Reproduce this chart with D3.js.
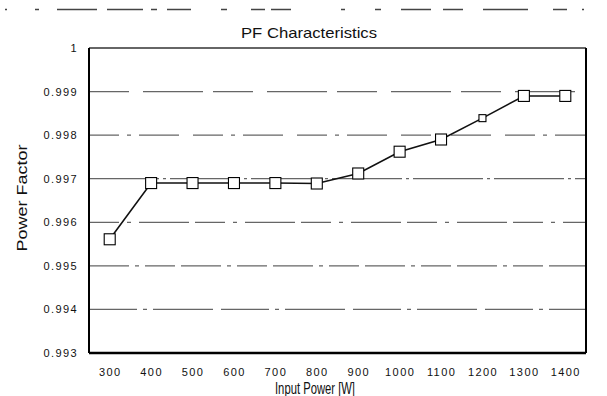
<!DOCTYPE html>
<html>
<head>
<meta charset="utf-8">
<script src="https://cdn.jsdelivr.net/npm/d3@7"></script>
<style>
  body { margin: 0; background: #fff; }
  text { font-family: "Liberation Sans", Arial, sans-serif; fill: #111; }
</style>
</head>
<body>
<div class="chart"></div>
<script>
// data
var inputPower = [300, 400, 500, 600, 700, 800, 900, 1000, 1100, 1200, 1300, 1400];
var powerFactor = [0.99561, 0.99690, 0.99690, 0.99690, 0.99690, 0.99689, 0.99712, 0.99762, 0.99790, 0.99839, 0.99890, 0.99890];
var yTicks = [0.993, 0.994, 0.995, 0.996, 0.997, 0.998, 0.999, 1];

var svgWidth = 607;
var svgHeight = 396;

var margin = {
    top: 48,
    right: 21,
    bottom: 43,
    left: 89
};

var width = svgWidth - margin.left - margin.right;
var height = svgHeight - margin.top - margin.bottom;

var svg = d3.select(".chart")
    .append("svg")
    .attr("width", svgWidth)
    .attr("height", svgHeight);

// scan artifact line across the top
svg.append("line")
    .attr("x1", 5).attr("x2", 600)
    .attr("y1", 9.5).attr("y2", 9.5)
    .attr("stroke", "#444")
    .attr("stroke-width", 1.5)
    .attr("stroke-dasharray", "2,28,4,18,40,10,36,8,6,10,24,30,6,24,14,6,20,50,4,30,6,20,30,12,20,20,45,25,14,15");

var chartGroup = svg.append("g")
    .attr("transform", `translate(${margin.left}, ${margin.top})`);

var xScale = d3.scalePoint()
    .domain(inputPower)
    .range([0, width])
    .padding(0.5);

var yScale = d3.scaleLinear()
    .domain([0.993, 1])
    .range([height, 0]);

// grid lines, each with its own dash style like the scan
var gridDash = ["", "48,6,4,6,60,8", "40,6,4,6,30,6", "30,8,4,8,50,6", "70,4,3,4", "30,8,4,8,40,14", "40,14,60,10", ""];
chartGroup.selectAll(".grid")
    .data(yTicks.slice(1, -1))
    .enter()
    .append("line")
    .attr("class", "grid")
    .attr("x1", 0)
    .attr("x2", width)
    .attr("y1", d => yScale(d))
    .attr("y2", d => yScale(d))
    .attr("stroke", "#666")
    .attr("stroke-width", 1.2)
    .attr("stroke-dasharray", (d, i) => gridDash[i + 1]);

// axes
var leftAxis = d3.axisLeft(yScale)
    .tickValues(yTicks)
    .tickSize(0)
    .tickPadding(11)
    .tickFormat(d => d === 1 ? "1" : d3.format(".3f")(d));

var bottomAxis = d3.axisBottom(xScale)
    .tickSize(0)
    .tickPadding(15);

var yAxis = chartGroup.append("g").call(leftAxis);
var xAxis = chartGroup.append("g")
    .attr("transform", `translate(0, ${height})`)
    .call(bottomAxis);

yAxis.select(".domain").remove();
xAxis.select(".domain").remove();
chartGroup.selectAll(".tick text")
    .style("font-family", "'Liberation Sans', Arial, sans-serif")
    .style("font-size", "11px")
    .style("letter-spacing", "1.4px")
    .attr("fill", "#111");

// plot frame
chartGroup.append("line")
    .attr("x1", 0).attr("x2", width).attr("y1", 0).attr("y2", 0)
    .attr("stroke", "#333").attr("stroke-width", 1.5);
chartGroup.append("line")
    .attr("x1", 0).attr("x2", 0).attr("y1", 0).attr("y2", height)
    .attr("stroke", "#000").attr("stroke-width", 2);
chartGroup.append("line")
    .attr("x1", width).attr("x2", width).attr("y1", 0).attr("y2", height)
    .attr("stroke", "#000").attr("stroke-width", 2);
chartGroup.append("line")
    .attr("x1", 0).attr("x2", width).attr("y1", height).attr("y2", height)
    .attr("stroke", "#000").attr("stroke-width", 2.5);

// the series
var points = inputPower.map((p, i) => ({ p: p, v: powerFactor[i] }));

var line = d3.line()
    .x(d => xScale(d.p))
    .y(d => yScale(d.v));

chartGroup.append("path")
    .datum(points)
    .attr("d", line)
    .attr("fill", "none")
    .attr("stroke", "#111")
    .attr("stroke-width", 1.6);

chartGroup.selectAll(".marker")
    .data(points)
    .enter()
    .append("rect")
    .attr("class", "marker")
    .attr("x", d => xScale(d.p) - (d.p === 1200 ? 3.5 : 5.5))
    .attr("y", d => yScale(d.v) - (d.p === 1200 ? 3.5 : 5.5))
    .attr("width", d => d.p === 1200 ? 7 : 11)
    .attr("height", d => d.p === 1200 ? 7 : 11)
    .attr("fill", "#fff")
    .attr("stroke", "#000")
    .attr("stroke-width", 1.1);

// titles
svg.append("text")
    .attr("x", 309)
    .attr("y", 38)
    .attr("text-anchor", "middle")
    .attr("textLength", 136)
    .attr("lengthAdjust", "spacingAndGlyphs")
    .style("font-size", "15px")
    .text("PF Characteristics");

svg.append("text")
    .attr("transform", "translate(27, 198) rotate(-90)")
    .attr("text-anchor", "middle")
    .attr("textLength", 107)
    .attr("lengthAdjust", "spacingAndGlyphs")
    .style("font-size", "15px")
    .text("Power Factor");

svg.append("text")
    .attr("x", 315)
    .attr("y", 394)
    .attr("text-anchor", "middle")
    .attr("textLength", 80)
    .attr("lengthAdjust", "spacingAndGlyphs")
    .style("font-size", "16px")
    .text("Input Power [W]");
</script>
</body>
</html>
